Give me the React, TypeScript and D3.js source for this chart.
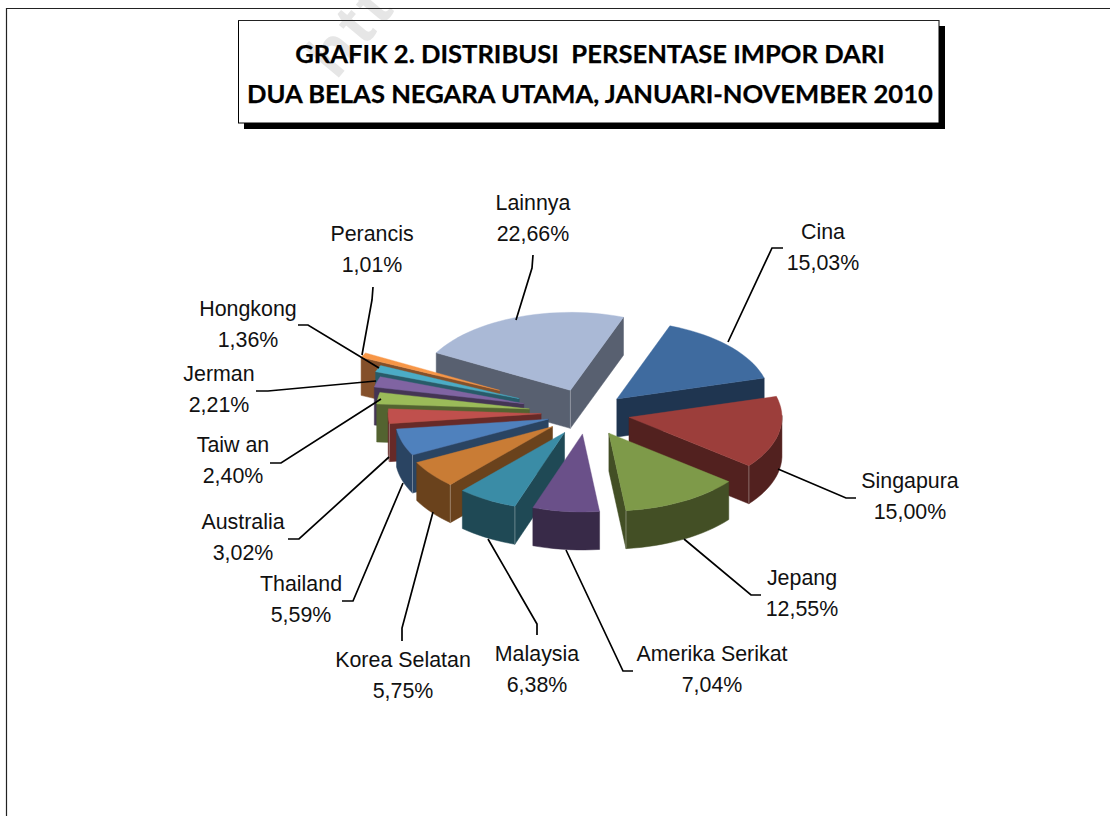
import React from "react";
import * as d3 from "d3";

const categories = ["Cina", "Singapura", "Jepang", "Amerika Serikat", "Malaysia", "Korea Selatan", "Thailand", "Australia", "Taiw an", "Jerman", "Hongkong", "Perancis", "Lainnya"];
const shares = [15.03, 15.0, 12.55, 7.04, 6.38, 5.75, 5.59, 3.02, 2.4, 2.21, 1.36, 1.01, 22.66];
const shareLabels = ["15,03%", "15,00%", "12,55%", "7,04%", "6,38%", "5,75%", "5,59%", "3,02%", "2,40%", "2,21%", "1,36%", "1,01%", "22,66%"];
const explosion = [0.265, 0.28, 0.295, 0.27, 0.29, 0.285, 0.265, 0.3, 0.38, 0.43, 0.48, 0.64, 0.31];
const topColors = ["#3F6B9F", "#9C3E3B", "#7E9A49", "#6A5089", "#3A8CA6", "#C97C35", "#4F81BD", "#C0504D", "#9BBB59", "#8064A2", "#4BACC6", "#F79646", "#AAB9D6"];
const sideColors = ["#1F3550", "#52211F", "#434F25", "#382A48", "#1F4955", "#6A421C", "#2A4462", "#672A28", "#536330", "#443554", "#285B69", "#84502A", "#586070"];
const titleLines = ["GRAFIK 2. DISTRIBUSI  PERSENTASE IMPOR DARI", "DUA BELAS NEGARA UTAMA, JANUARI-NOVEMBER 2010"];

// Label layout: text centre, first baseline, leader polyline
const labelX = [823, 910, 802, 712, 537, 403, 301, 243, 233, 219, 248, 372, 533];
const labelY = [239, 488, 585, 661, 661, 667, 591, 529, 452, 381, 316, 241, 210];
const leaders: [number, number][][] = [
  [[783, 248], [772, 248], [728, 342]],
  [[856, 498], [846, 498], [778, 469]],
  [[761, 595], [751, 595], [684, 539]],
  [[633, 671], [623, 671], [566, 550]],
  [[537, 635], [537, 624], [488, 539]],
  [[402, 641], [402, 628], [433, 512]],
  [[342, 601], [353, 601], [403, 483]],
  [[288, 539], [299, 539], [389, 457]],
  [[270, 463], [281, 463], [381, 399]],
  [[256, 391], [268, 391], [376, 381]],
  [[298, 325], [308, 325], [379, 368]],
  [[373, 287], [372, 300], [362, 355]],
  [[533, 255], [532, 268], [516, 320]],
];

const W = 1110, H = 816;
const cx = 587, cy = 413, Rx = 153, Ry = 78, depth = 38;
const rotation = (20.3 * Math.PI) / 180;

const xScale = d3.scaleLinear().domain([-1, 1]).range([cx - Rx, cx + Rx]);
const yScale = d3.scaleLinear().domain([-1, 1]).range([cy + Ry, cy - Ry]);
const lineGen = d3.line<[number, number]>();

type P = [number, number];
const arcs = d3.pie<number>().sort(null).startAngle(rotation).endAngle(rotation + 2 * Math.PI)(shares);

const slices = arcs.map((a, i) => {
  const mid = (a.startAngle + a.endAngle) / 2;
  const ox = explosion[i] * Math.sin(mid), oy = explosion[i] * Math.cos(mid);
  const pt = (r: number, t: number): P => [xScale(ox + r * Math.sin(t)), yScale(oy + r * Math.cos(t))];
  const steps = Math.max(3, Math.ceil((a.endAngle - a.startAngle) / 0.05));
  const rim: P[] = d3.range(steps + 1).map((k) => pt(1, a.startAngle + ((a.endAngle - a.startAngle) * k) / steps));
  const apex = pt(0, mid);
  const ring: P[] = [apex, ...rim];
  // Split the outline into the flat radial edges and the curved rim so that
  // every front wall is one seamless polygon.
  const runs: P[][] = [[apex, rim[0]], rim, [rim[rim.length - 1], apex]];
  const walls: string[] = [];
  runs.forEach((run) => {
    let cur: P[] = [];
    const flush = () => {
      if (cur.length > 1) {
        const lower = cur.map((p) => [p[0], p[1] + depth] as P).reverse();
        walls.push(lineGen([...cur, ...lower]) + "Z");
      }
      cur = [];
    };
    for (let k = 0; k < run.length - 1; k++) {
      if (run[k + 1][0] < run[k][0]) {
        if (!cur.length) cur.push(run[k]);
        cur.push(run[k + 1]);
      } else flush();
    }
    flush();
  });
  const corners: P[] = [];
  ring.forEach((p, k) => {
    const prev = ring[(k - 1 + ring.length) % ring.length];
    const next = ring[(k + 1) % ring.length];
    const isCorner = k === 0 || k === 1 || k === ring.length - 1;
    if (isCorner && p[0] < prev[0] && next[0] < p[0]) corners.push(p);
  });
  return { i, top: lineGen(ring) + "Z", walls: walls.join(""), corners, sortKey: d3.mean(ring, (p) => p[1]) as number };
});
const drawOrder = d3.sort(slices, (s) => s.sortKey);

const labelFont = "'Liberation Sans', Arial, sans-serif";

export default function App() {
  return (
    <svg width={W} height={H} viewBox={`0 0 ${W} ${H}`} style={{ position: "fixed", left: 0, top: 0, background: "#fff" }}>
      <path d="M6.5,816V8.5H1110" fill="none" stroke="#222" strokeWidth={1.2} />
      <rect x={244} y={26} width={701} height={103} fill="#000" />
      <rect x={238.5} y={20.5} width={700.5} height={102.5} fill="#fff" stroke="#000" strokeWidth={1} />
      <text transform="translate(336,81) rotate(-50)" fontFamily="'Liberation Sans', sans-serif" fontWeight="bold" fontSize={64} letterSpacing={5} fill="#E6E6E6">htt</text>
      <path d="M238,20.5H939M6,8.5H1110" fill="none" stroke="#222" strokeWidth={1} />
      <g fontFamily="Lato, sans-serif" fontWeight="bold" fontSize={25.6} textAnchor="middle" fill="#000" stroke="#000" strokeWidth={0.25}>
        {titleLines.map((t, i) => (
          <text key={i} x={590} y={63 + i * 40} style={{ whiteSpace: "pre" }}>{t}</text>
        ))}
      </g>
      {drawOrder.map((s) => (
        <g key={s.i}>
          <path d={s.walls} fill={sideColors[s.i]} stroke={sideColors[s.i]} strokeWidth={0.5} />
          <path d={s.top} fill={topColors[s.i]} stroke={topColors[s.i]} strokeWidth={0.4} />
          {s.corners.map((c, k) => (
            <line key={k} x1={c[0]} y1={c[1]} x2={c[0]} y2={c[1] + depth} stroke="#fff" strokeOpacity={0.35} strokeWidth={1} />
          ))}
        </g>
      ))}
      {leaders.map((l, i) => (
        <path key={i} d={lineGen(l) as string} fill="none" stroke="#000" strokeWidth={1.7} />
      ))}
      <g fontFamily={labelFont} fontSize={21.4} textAnchor="middle" fill="#111">
        {categories.map((c, i) => (
          <text key={c} x={labelX[i]} y={labelY[i]}>
            <tspan x={labelX[i]}>{c}</tspan>
            <tspan x={labelX[i]} dy={31}>{shareLabels[i]}</tspan>
          </text>
        ))}
      </g>
    </svg>
  );
}
